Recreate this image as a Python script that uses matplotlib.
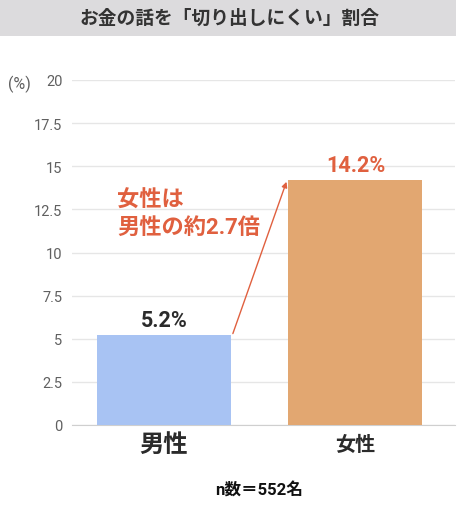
import matplotlib
matplotlib.use("Agg")
import matplotlib.pyplot as plt
from matplotlib.patches import Rectangle

plt.rcParams['font.family'] = ['Roboto', 'Noto Sans CJK JP', 'DejaVu Sans']

# data
categories = ['男性', '女性']
values = [5.2, 14.2]
value_labels = ['5.2%', '14.2%']
yticks = [0, 2.5, 5, 7.5, 10, 12.5, 15, 17.5, 20]
ytick_labels = ['0', '2.5', '5', '7.5', '10', '12.5', '15', '17.5', '20']
title = 'お金の話を「切り出しにくい」割合'
note = 'n数＝552名'
ratio_text = '女性は\n男性の約2.7倍'

bar_colors = ['#a8c3f3', '#e2a771']
accent = '#e0603f'
dark = '#2b2b2b'

fig = plt.figure(figsize=(4.6, 5.06), dpi=100)
fig.patch.set_facecolor('white')

# title band
fig.patches.append(Rectangle((0, 1 - 37/506), 456/460, 37/506, transform=fig.transFigure,
                             facecolor='#dcdbdd', edgecolor='none', zorder=0))
fig.text(230/460, 1 - 19/506, title, ha='center', va='center', fontsize=13.5,
         fontweight='bold', color='#333333')

ax = fig.add_axes([72/460, 80/506, 383/460, 345/506])
x = list(range(len(categories)))
ax.bar(x, values, width=0.7, color=bar_colors, zorder=3)
ax.set_xlim(-0.48, 1.52)
ax.set_ylim(0, 20)
ax.set_yticks(yticks)
ax.set_yticklabels(ytick_labels)
ax.tick_params(axis='y', length=0, labelsize=10.5, labelcolor='#606060', pad=7)
ax.grid(axis='y', color='#e6e6e6', linewidth=1, zorder=0)
for s in ['top', 'right', 'left']:
    ax.spines[s].set_visible(False)
ax.spines['bottom'].set_color('#cfcfcf')
ax.set_xticks(x)
ax.set_xticklabels([])
ax.tick_params(axis='x', length=0)

# category labels (男性 drawn larger, as in the source)
ax.text(x[0], -1.1, categories[0], ha='center', va='center', fontsize=17.5,
        fontweight='bold', color=dark)
ax.text(x[1], -1.1, categories[1], ha='center', va='center', fontsize=14.5,
        fontweight='bold', color=dark)

# value labels
ax.text(x[0], values[0] + 0.25, value_labels[0], ha='center', va='bottom',
        fontsize=15.5, fontweight='bold', color=dark)
ax.text(x[1], values[1] + 0.25, value_labels[1], ha='center', va='bottom',
        fontsize=15.5, fontweight='bold', color=accent)

# ratio annotation with arrow
ax.annotate('', xy=(0.64, values[1] - 0.1), xytext=(0.36, values[0] + 0.1),
            arrowprops=dict(arrowstyle='-|>', color=accent, lw=1,
                            mutation_scale=8, shrinkA=0, shrinkB=0))
ax.text(-0.245, 12.25, ratio_text, ha='left', va='center', fontsize=16,
        fontweight='bold', color=accent, linespacing=1.3)

fig.text(19/460, 1 - 84/506, '(%)', ha='center', va='center', fontsize=11.5,
         color='#606060')
fig.text(259/460, 1 - 490/506, note, ha='center', va='center', fontsize=12,
         fontweight='bold', color='#111111')

fig.savefig('out.png', dpi=100)
